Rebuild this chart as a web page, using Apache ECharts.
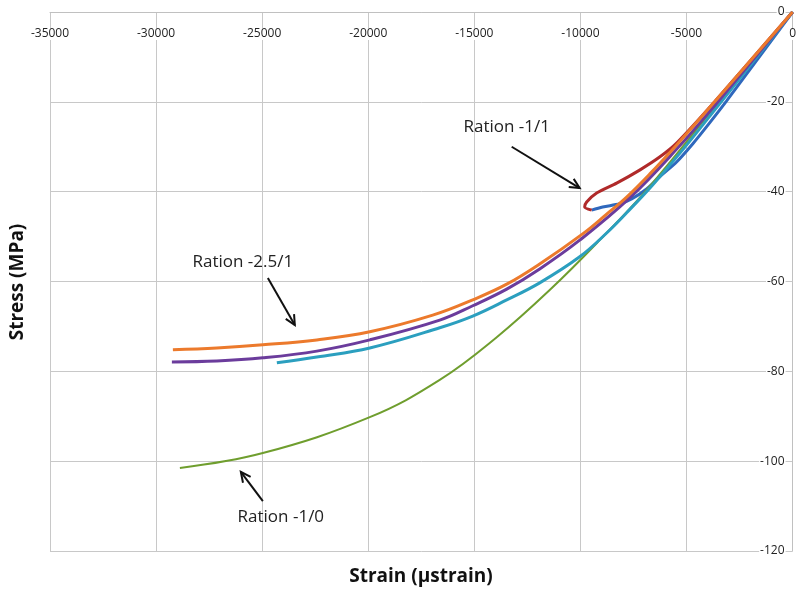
<!DOCTYPE html>
<html><head><meta charset="utf-8">
<script src="https://cdn.jsdelivr.net/npm/echarts@6/dist/echarts.min.js"></script>
<style>html,body{margin:0;padding:0;background:#fff}#c{width:800px;height:592px}</style>
</head><body><div id="c"></div>
<script>
// Ration -2.5/1 (orange)
const orangeData = [[0,0],[-3675,-20.0],[-5465,-29.6],[-6737,-36.1],[-7820,-41.2],[-8762,-45.0],[-9893,-49.4],[-11919,-56.1],[-13473,-60.6],[-14981,-63.9],[-16960,-67.5],[-19927,-71.2],[-22424,-73.0],[-24968,-74.1],[-27135,-74.8],[-29208,-75.2]];
// purple
const purpleData = [[0,0],[-3580,-20.3],[-5418,-30.3],[-7679,-41.4],[-10034,-50.8],[-11919,-57.2],[-13473,-61.7],[-15075,-65.4],[-16630,-68.6],[-19927,-73.0],[-22424,-75.5],[-24968,-77.0],[-27135,-77.7],[-29255,-77.9]];
// teal
const tealData = [[0,0],[-3486,-20.7],[-5182,-30.7],[-6595,-38.5],[-7820,-44.7],[-8762,-49.2],[-10034,-54.5],[-11919,-60.3],[-13473,-64.1],[-15075,-67.7],[-16630,-70.3],[-19927,-74.8],[-22424,-76.8],[-24308,-78.1]];
// Ration -1/0 (green)
const greenData = [[0,0],[-3439,-19.8],[-6878,-39.6],[-9092,-50.8],[-11447,-61.9],[-13944,-72.4],[-16630,-81.9],[-19927,-90.2],[-24968,-98.2],[-28878,-101.5]];
// Ration -1/1 loading (red) and unloading (blue)
const redData = [[0,0],[-3675,-20.0],[-5465,-29.2],[-6266,-32.3],[-7208,-35.2],[-8291,-38.1],[-9234,-40.3],[-9705,-42.3],[-9799,-43.4],[-9469,-44.1]];
const blueData = [[-9469,-44.1],[-8951,-43.4],[-8150,-42.7],[-7585,-41.6],[-6878,-39.4],[-6266,-36.7],[-5465,-33.4],[-4711,-29.4],[-3910,-24.7],[-3109,-19.8],[0,0]];

// annotations (data coordinates)
const noteTexts = ['Ration -1/1','Ration -2.5/1','Ration -1/0'];
const notePos = [[-13473,-25.6],[-25910,-55.7],[-24120,-112.4]];
const arrowFrom = [[-13238,-30.0],[-24732,-59.2],[-24968,-108.9]];
const arrowTo = [[-10034,-39.2],[-23461,-69.7],[-26005,-102.4]];

const FONT = 'Open Sans';
const chart = echarts.init(document.getElementById('c'));
function line(name, data, color, width, z, sm){
  return {name, type:'line', data, showSymbol:false, smooth:sm, z,
    lineStyle:{color, width}, itemStyle:{color}};
}
chart.setOption({
  animation:false,
  backgroundColor:'#fff',
  grid:{left:50, right:7, top:12, bottom:41},
  xAxis:{type:'value', position:'top', min:-35000, max:0, interval:5000,
    axisLine:{show:true, onZero:false, lineStyle:{color:'#c0c0c0'}},
    axisTick:{show:false},
    splitLine:{show:true, lineStyle:{color:'#c8c8c8', width:1}},
    axisLabel:{inside:true, margin:16, fontFamily:FONT, fontSize:12, color:'#222', backgroundColor:'#fff', padding:[0,1],
      formatter:v=>String(v)}
  },
  yAxis:{type:'value', position:'right', min:-120, max:0, interval:20,
    axisLine:{show:true, onZero:false, lineStyle:{color:'#c0c0c0'}},
    axisTick:{show:false},
    splitLine:{show:true, lineStyle:{color:'#c8c8c8', width:1}},
    axisLabel:{inside:true, margin:7, fontFamily:FONT, fontSize:12, color:'#222', backgroundColor:'#fff', padding:[0,1],
      formatter:v=>String(v)}
  },
  series:[
    line('blue', blueData, '#2f68bd', 3, 2, 0.3),
    line('red', redData, '#b02a2a', 3, 3, 0.25),
    line('green', greenData, '#6f9e2e', 2, 4, 0.4),
    line('teal', tealData, '#2b9fbf', 3, 5, 0.4),
    line('purple', purpleData, '#6b3c9c', 3, 6, 0.4),
    line('orange', orangeData, '#ec7a2c', 3, 7, 0.4)
  ]
});

const g = [];
g.push({type:'text', x:421, y:577, style:{text:'Strain (µstrain)', align:'center', verticalAlign:'middle', font:'bold 19px "Open Sans"', fill:'#111'}});
g.push({type:'text', rotation:Math.PI/2, x:18, y:282, style:{text:'Stress (MPa)', align:'center', verticalAlign:'middle', font:'bold 19px "Open Sans"', fill:'#111'}});
for (let i=0;i<noteTexts.length;i++){
  const p = chart.convertToPixel({gridIndex:0}, notePos[i]);
  const a = chart.convertToPixel({gridIndex:0}, arrowFrom[i]);
  const b = chart.convertToPixel({gridIndex:0}, arrowTo[i]);
  g.push({type:'text', x:p[0], y:p[1], style:{text:noteTexts[i], align:'center', verticalAlign:'middle', font:'17px "Open Sans"', fill:'#222'}});
  g.push({type:'line', shape:{x1:a[0], y1:a[1], x2:b[0], y2:b[1]}, style:{stroke:'#111', lineWidth:2}});
  const ang = Math.atan2(b[1]-a[1], b[0]-a[0]);
  const L = 11, h = 0.45;
  g.push({type:'polyline', shape:{points:[
    [b[0]-L*Math.cos(ang-h), b[1]-L*Math.sin(ang-h)], [b[0], b[1]],
    [b[0]-L*Math.cos(ang+h), b[1]-L*Math.sin(ang+h)]]}, style:{stroke:'#111', lineWidth:2, fill:null}});
}
chart.setOption({graphic:g});
</script>
</body></html>
